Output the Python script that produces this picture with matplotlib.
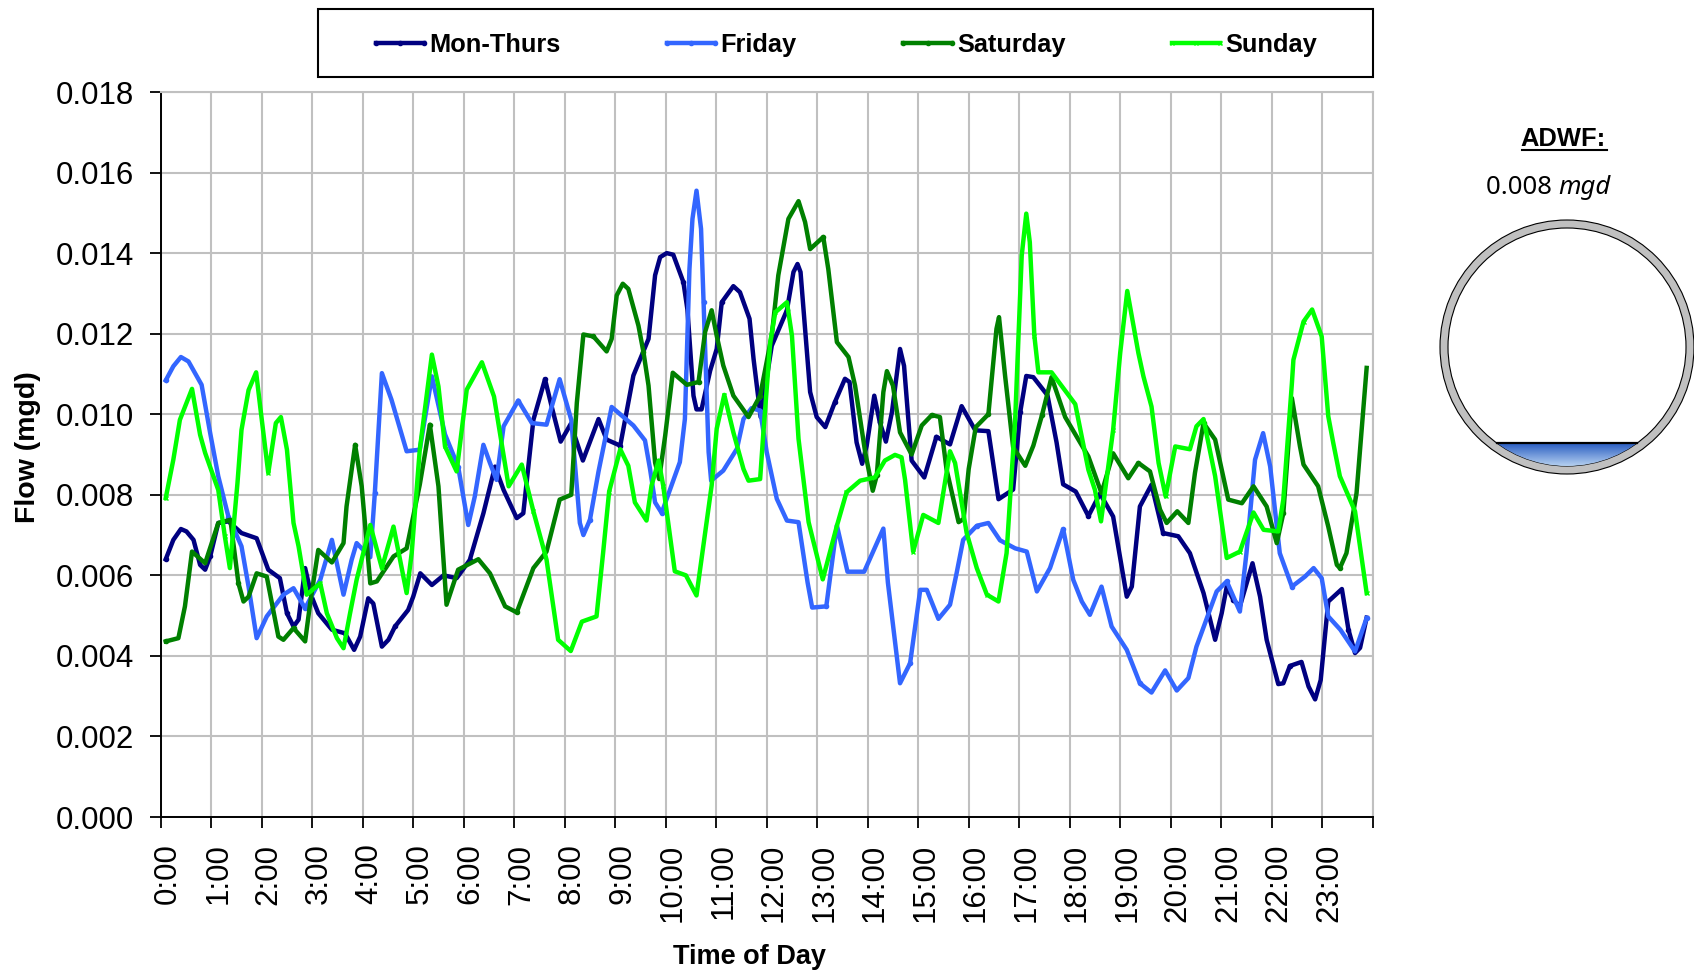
import numpy as np
import matplotlib
matplotlib.use("Agg")
import matplotlib.pyplot as plt
from matplotlib.patches import Circle, Rectangle
from matplotlib.transforms import ScaledTranslation

# flow is in thousandths of a mgd
mon_hours = [0.1, 0.25, 0.4, 0.51, 0.65, 0.78, 0.88, 0.98, 1.14, 1.34, 1.6, 1.9, 2.13, 2.36, 2.5, 2.63, 2.73, 2.86, 2.99, 3.12, 3.39, 3.65, 3.83, 3.95, 4.11, 4.21, 4.38, 4.51, 4.64, 4.9, 5.0, 5.14, 5.37, 5.6, 5.86, 6.12, 6.39, 6.62, 6.79, 7.05, 7.18, 7.38, 7.61, 7.74, 7.92, 8.12, 8.36, 8.67, 8.83, 9.1, 9.36, 9.66, 9.79, 9.89, 10.02, 10.15, 10.35, 10.43, 10.55, 10.61, 10.71, 10.88, 11.01, 11.11, 11.34, 11.47, 11.66, 11.74, 11.88, 12.1, 12.4, 12.53, 12.61, 12.67, 12.86, 12.99, 13.16, 13.35, 13.55, 13.64, 13.78, 13.89, 13.98, 14.13, 14.24, 14.36, 14.48, 14.64, 14.72, 14.87, 15.12, 15.36, 15.63, 15.86, 16.13, 16.39, 16.59, 16.88, 17.02, 17.14, 17.28, 17.56, 17.74, 17.87, 18.12, 18.37, 18.6, 18.86, 19.13, 19.23, 19.39, 19.62, 19.85, 20.15, 20.38, 20.65, 20.88, 21.01, 21.11, 21.24, 21.37, 21.62, 21.77, 21.9, 22.13, 22.23, 22.36, 22.59, 22.73, 22.86, 22.97, 23.12, 23.39, 23.52, 23.65, 23.75, 23.88]
mon_flow = [6.4, 6.88, 7.15, 7.09, 6.88, 6.26, 6.14, 6.47, 7.3, 7.34, 7.05, 6.92, 6.14, 5.93, 5.06, 4.73, 4.9, 6.18, 5.47, 5.06, 4.65, 4.56, 4.15, 4.48, 5.43, 5.3, 4.23, 4.4, 4.73, 5.14, 5.47, 6.05, 5.76, 6.0, 5.93, 6.38, 7.54, 8.7, 8.12, 7.42, 7.54, 9.86, 10.87, 10.2, 9.32, 9.76, 8.85, 9.88, 9.37, 9.22, 10.96, 11.87, 13.45, 13.9, 14.0, 13.96, 13.28, 12.6, 10.46, 10.12, 10.12, 11.08, 11.62, 12.78, 13.18, 13.03, 12.37, 11.37, 9.93, 11.7, 12.58, 13.53, 13.73, 13.53, 10.55, 9.93, 9.68, 10.3, 10.88, 10.8, 9.3, 8.77, 9.22, 10.46, 9.8, 9.32, 10.05, 11.62, 11.2, 8.85, 8.43, 9.44, 9.25, 10.2, 9.6, 9.58, 7.89, 8.13, 10.05, 10.95, 10.92, 10.47, 9.3, 8.26, 8.08, 7.47, 8.03, 7.46, 5.47, 5.72, 7.71, 8.25, 7.05, 6.97, 6.55, 5.56, 4.4, 5.06, 5.72, 5.39, 5.23, 6.3, 5.47, 4.4, 3.3, 3.32, 3.75, 3.85, 3.24, 2.92, 3.4, 5.35, 5.66, 4.65, 4.07, 4.2, 4.95]

fri_hours = [0.1, 0.25, 0.4, 0.55, 0.81, 0.98, 1.14, 1.34, 1.6, 1.74, 1.9, 2.1, 2.43, 2.63, 2.86, 3.16, 3.39, 3.62, 3.78, 3.88, 4.15, 4.24, 4.38, 4.57, 4.87, 5.13, 5.37, 5.63, 5.89, 6.09, 6.22, 6.39, 6.52, 6.65, 6.79, 7.08, 7.35, 7.64, 7.9, 8.13, 8.3, 8.37, 8.5, 8.67, 8.93, 9.36, 9.59, 9.69, 9.79, 9.92, 10.28, 10.38, 10.47, 10.53, 10.61, 10.7, 10.75, 10.85, 10.9, 11.14, 11.41, 11.54, 11.7, 11.87, 12.0, 12.2, 12.4, 12.63, 12.81, 12.9, 13.18, 13.39, 13.6, 13.93, 14.31, 14.4, 14.64, 14.84, 15.04, 15.17, 15.4, 15.63, 15.76, 15.89, 16.16, 16.39, 16.62, 16.92, 17.15, 17.35, 17.61, 17.87, 18.07, 18.24, 18.4, 18.63, 18.83, 19.13, 19.39, 19.62, 19.89, 20.12, 20.35, 20.51, 20.91, 21.11, 21.37, 21.5, 21.67, 21.83, 21.97, 22.16, 22.4, 22.66, 22.83, 22.99, 23.12, 23.36, 23.65, 23.88]
fri_flow = [10.84, 11.19, 11.42, 11.31, 10.73, 9.53, 8.46, 7.46, 6.72, 5.72, 4.44, 4.98, 5.52, 5.68, 5.18, 5.89, 6.88, 5.52, 6.38, 6.8, 6.45, 8.04, 11.02, 10.36, 9.08, 9.12, 10.94, 9.5, 8.7, 7.25, 7.96, 9.24, 8.79, 8.37, 9.7, 10.34, 9.78, 9.74, 10.87, 9.86, 7.3, 7.0, 7.38, 8.58, 10.18, 9.72, 9.35, 8.64, 7.81, 7.55, 8.81, 9.88, 13.6, 14.85, 15.55, 14.6, 12.78, 9.06, 8.35, 8.6, 9.14, 9.88, 10.15, 10.09, 9.06, 7.9, 7.36, 7.32, 5.82, 5.2, 5.23, 7.24, 6.09, 6.09, 7.16, 5.82, 3.32, 3.82, 5.64, 5.64, 4.92, 5.27, 6.05, 6.88, 7.23, 7.3, 6.87, 6.67, 6.59, 5.6, 6.18, 7.15, 5.89, 5.35, 5.02, 5.72, 4.73, 4.15, 3.32, 3.09, 3.64, 3.14, 3.45, 4.23, 5.6, 5.85, 5.1, 6.55, 8.87, 9.53, 8.7, 6.55, 5.72, 5.97, 6.18, 5.93, 4.98, 4.65, 4.11, 4.94]

sat_hours = [0.1, 0.35, 0.48, 0.62, 0.88, 1.14, 1.38, 1.54, 1.64, 1.74, 1.9, 2.1, 2.33, 2.43, 2.63, 2.86, 2.96, 3.12, 3.39, 3.62, 3.68, 3.85, 3.98, 4.15, 4.28, 4.61, 4.87, 5.13, 5.33, 5.5, 5.66, 5.89, 6.29, 6.52, 6.82, 7.05, 7.38, 7.64, 7.9, 8.13, 8.24, 8.37, 8.57, 8.83, 8.93, 9.03, 9.15, 9.26, 9.46, 9.56, 9.66, 9.79, 9.87, 9.99, 10.14, 10.42, 10.65, 10.78, 10.91, 11.01, 11.14, 11.34, 11.64, 11.87, 12.1, 12.23, 12.43, 12.63, 12.76, 12.86, 13.12, 13.22, 13.39, 13.62, 13.75, 13.95, 14.1, 14.18, 14.31, 14.38, 14.5, 14.64, 14.87, 15.07, 15.27, 15.43, 15.56, 15.8, 15.9, 16.0, 16.14, 16.39, 16.55, 16.6, 16.72, 16.88, 17.12, 17.28, 17.45, 17.64, 17.91, 18.37, 18.63, 18.86, 19.16, 19.36, 19.59, 19.79, 19.92, 20.13, 20.35, 20.48, 20.65, 20.88, 21.14, 21.41, 21.64, 21.9, 22.1, 22.23, 22.4, 22.56, 22.63, 22.92, 23.12, 23.29, 23.35, 23.48, 23.68, 23.88]
sat_flow = [4.36, 4.44, 5.23, 6.59, 6.3, 7.3, 7.38, 5.8, 5.35, 5.47, 6.05, 5.97, 4.48, 4.4, 4.69, 4.36, 5.31, 6.63, 6.32, 6.8, 7.71, 9.24, 8.21, 5.8, 5.85, 6.47, 6.67, 8.25, 9.74, 8.21, 5.27, 6.14, 6.4, 6.05, 5.23, 5.08, 6.18, 6.59, 7.88, 8.0, 10.28, 11.98, 11.93, 11.56, 11.87, 12.95, 13.24, 13.11, 12.2, 11.54, 10.71, 8.8, 8.39, 9.47, 11.03, 10.73, 10.8, 12.04, 12.58, 11.95, 11.21, 10.46, 9.93, 10.46, 11.95, 13.45, 14.85, 15.29, 14.77, 14.1, 14.4, 13.6, 11.79, 11.42, 10.71, 9.06, 8.1, 8.48, 10.55, 11.07, 10.71, 9.55, 9.0, 9.72, 9.98, 9.93, 8.64, 7.32, 7.4, 8.64, 9.68, 10.0, 12.12, 12.41, 10.96, 9.18, 8.72, 9.22, 9.97, 10.92, 9.93, 8.95, 8.04, 9.03, 8.41, 8.79, 8.58, 7.63, 7.3, 7.59, 7.3, 8.54, 9.78, 9.37, 7.88, 7.79, 8.21, 7.71, 6.8, 7.54, 10.4, 9.2, 8.75, 8.21, 7.21, 6.26, 6.18, 6.55, 8.04, 11.15]

sun_hours = [0.1, 0.25, 0.38, 0.62, 0.78, 0.88, 1.14, 1.27, 1.37, 1.52, 1.6, 1.74, 1.89, 1.97, 2.13, 2.28, 2.38, 2.5, 2.63, 2.73, 2.89, 3.16, 3.29, 3.49, 3.62, 3.75, 3.88, 4.15, 4.38, 4.61, 4.87, 4.97, 5.13, 5.37, 5.5, 5.63, 5.86, 6.06, 6.36, 6.6, 6.89, 7.15, 7.38, 7.64, 7.87, 8.12, 8.34, 8.63, 8.76, 8.88, 9.1, 9.26, 9.39, 9.62, 9.72, 9.86, 9.95, 10.18, 10.4, 10.61, 10.81, 10.91, 11.01, 11.16, 11.34, 11.54, 11.64, 11.87, 11.93, 12.07, 12.17, 12.4, 12.5, 12.63, 12.83, 13.11, 13.39, 13.58, 13.85, 14.14, 14.34, 14.54, 14.67, 14.74, 14.9, 15.1, 15.4, 15.63, 15.73, 15.96, 16.16, 16.36, 16.59, 16.75, 16.92, 17.05, 17.14, 17.21, 17.3, 17.38, 17.64, 18.11, 18.37, 18.5, 18.62, 18.86, 19.0, 19.14, 19.36, 19.46, 19.62, 19.76, 19.9, 20.09, 20.38, 20.51, 20.65, 20.88, 21.11, 21.37, 21.64, 21.84, 22.13, 22.23, 22.4, 22.43, 22.63, 22.8, 22.99, 23.12, 23.22, 23.35, 23.65, 23.88]
sun_flow = [7.92, 8.87, 9.86, 10.63, 9.49, 9.04, 8.12, 6.97, 6.18, 8.29, 9.61, 10.6, 11.04, 10.19, 8.54, 9.78, 9.93, 9.12, 7.3, 6.72, 5.52, 5.8, 5.06, 4.44, 4.19, 5.06, 5.89, 7.25, 6.18, 7.21, 5.56, 6.55, 9.12, 11.48, 10.69, 9.2, 8.58, 10.61, 11.29, 10.44, 8.21, 8.75, 7.59, 6.39, 4.4, 4.12, 4.85, 4.98, 6.55, 8.08, 9.13, 8.72, 7.81, 7.36, 8.23, 8.85, 8.23, 6.1, 6.0, 5.5, 7.32, 8.23, 9.64, 10.48, 9.55, 8.64, 8.35, 8.39, 9.47, 11.79, 12.53, 12.78, 11.95, 9.39, 7.32, 5.9, 7.23, 8.06, 8.35, 8.43, 8.85, 8.99, 8.93, 8.37, 6.59, 7.5, 7.3, 9.08, 8.79, 7.05, 6.18, 5.52, 5.35, 6.55, 9.86, 13.94, 14.98, 14.27, 11.95, 11.04, 11.04, 10.25, 8.62, 8.12, 7.34, 9.61, 11.52, 13.06, 11.52, 10.94, 10.19, 8.79, 7.96, 9.2, 9.13, 9.7, 9.88, 8.46, 6.43, 6.59, 7.56, 7.13, 7.09, 7.88, 10.77, 11.35, 12.3, 12.6, 11.93, 9.95, 9.28, 8.46, 7.59, 5.56]

hour_labels = [f"{h}:00" for h in range(24)]
flow_ticks = [0.000, 0.002, 0.004, 0.006, 0.008, 0.010, 0.012, 0.014, 0.016, 0.018]
pipe_depth_ratio = 0.097

W, H = 1694, 971
plt.rcParams["font.family"] = ["Liberation Sans", "DejaVu Sans"]
fig = plt.figure(figsize=(W / 100, H / 100), dpi=100)
ax = fig.add_axes([160.7 / W, 1 - 817 / H, 1212 / W, 725 / H])

series = [
    ("Mon-Thurs", mon_hours, mon_flow, "#000080", "o"),
    ("Friday", fri_hours, fri_flow, "#3366FF", "o"),
    ("Saturday", sat_hours, sat_flow, "#008000", "o"),
    ("Sunday", sun_hours, sun_flow, "#00FF00", "x"),
]
for name, hours, flow, color, mark in series:
    ax.plot(hours, np.array(flow) / 1000, color=color, lw=3.2, label=name,
            marker=mark, ms=3, mew=1, markevery=7, solid_joinstyle="round")

ax.set_xlim(0, 24)
ax.set_ylim(0, 0.018)
ax.set_xticks(range(25))
ax.set_xticklabels(hour_labels + [""], rotation=90, ha="center", va="top")
ax.set_yticks(flow_ticks)
ax.set_yticklabels([f"{v:.3f}" for v in flow_ticks])
ax.grid(True, color="#c0c0c0", lw=1.5)
ax.set_axisbelow(True)
ax.tick_params(axis="both", length=7.6, width=1.3, labelsize=22.5, color="black")
ax.tick_params(axis="x", pad=11.5)
ax.tick_params(axis="y", pad=11.5)
for tick in ax.xaxis.get_major_ticks():
    tick.label1.set_transform(tick.label1.get_transform() + ScaledTranslation(7 / 100, 0, fig.dpi_scale_trans))
for side in ["top", "right"]:
    ax.spines[side].set_color("#c0c0c0")
    ax.spines[side].set_linewidth(1.5)
for side in ["left", "bottom"]:
    ax.spines[side].set_linewidth(1.4)

fig.text(28 / W, 1 - 447 / H, "Flow (mgd)", rotation=90, ha="center", va="center",
         fontweight="bold", fontsize=20.5)
fig.text(749.5 / W, 1 - 957 / H, "Time of Day", ha="center", va="center",
         fontweight="bold", fontsize=19.5)

fig.add_artist(Rectangle((318 / W, 1 - 77 / H), 1055 / W, 68 / H, transform=fig.transFigure,
                         fc="white", ec="black", lw=1.5))
handles, labels = ax.get_legend_handles_labels()
leg = fig.legend(handles, labels, ncol=4, loc="center", bbox_to_anchor=(846.5 / W, 1 - 45 / H),
                 prop={"family": "Liberation Sans", "weight": "bold", "size": 18.3},
                 frameon=False, numpoints=1,
                 handlelength=1.9, handletextpad=0.2, columnspacing=4.2, borderaxespad=0)
for line in leg.get_lines():
    line.set_markevery(None)

# pipe cross section on the right
cx, cy, half = 1567, 347, 132
pipe = fig.add_axes([(cx - half) / W, 1 - (cy + half) / H, 2 * half / W, 2 * half / H])
pipe.axis("off")
pipe.add_patch(Circle((0, 0), 127, fc="#c0c0c0", ec="black", lw=0.8, clip_on=False))
inner = Circle((0, 0), 119, fc="white", ec="black", lw=0.8)
pipe.add_patch(inner)
water_top = -119 + 2 * 119 * pipe_depth_ratio
gradient = np.linspace(0, 1, 64).reshape(-1, 1)
cmap = matplotlib.colors.LinearSegmentedColormap.from_list("water", ["#2458c0", "#b4d0f0"])
im = pipe.imshow(gradient, extent=(-119, 119, -119, water_top), cmap=cmap, aspect="auto",
                 origin="upper", zorder=3)
im.set_clip_path(inner)
half_chord = np.sqrt(119 ** 2 - water_top ** 2)
pipe.plot([-half_chord, half_chord], [water_top, water_top], color="black", lw=1.6, zorder=4)
pipe.set_xlim(-half, half)
pipe.set_ylim(-half, half)

fig.text(1562.5 / W, 1 - 139 / H, "ADWF:", ha="center", va="center", fontweight="bold", fontsize=18.4)
fig.add_artist(plt.Line2D([1522 / W, 1607 / W], [1 - 150 / H, 1 - 150 / H], color="black", lw=1.5))
fig.text(1558 / W, 1 - 187 / H, "0.008 ", ha="right", va="center", family="Noto Sans", fontsize=18.5)
fig.text(1558 / W, 1 - 187 / H, "mgd", ha="left", va="center", family="Noto Sans",
         style="italic", fontsize=18.5)

fig.savefig("out.png", dpi=100)
